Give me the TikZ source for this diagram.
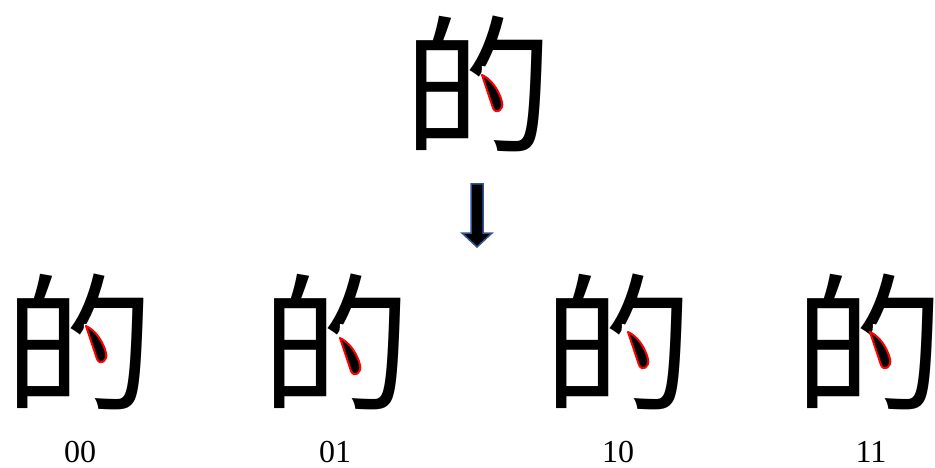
\documentclass[tikz,border=0pt]{standalone}
\usepackage{fontspec}
\setmainfont{Liberation Serif}
\newfontfamily\cjk{Noto Sans CJK SC}
\begin{document}
\begin{tikzpicture}[x=1pt,y=-1pt,
  hanzi/.style={inner sep=0pt, font=\cjk\fontsize{150}{150}\selectfont},
  code/.style={inner sep=0pt, font=\fontsize{32}{32}\selectfont},
  coverdot/.pic={\fill[white] (4,-18) -- (17,-16) -- (45,23) -- (33,35) -- (3,-2) -- cycle;},
  dotstroke/.pic={\filldraw[draw=red, fill=black, line width=2pt, line join=round]
     (0,0) .. controls (9,4) and (17,15) .. (20,27) .. controls (22,35) and (14,40) .. (11,33)
     .. controls (8,24) and (4,12) .. (0,0) -- cycle;}
]
\useasboundingbox (0,0) rectangle (935,468);
\node[hanzi] (top) at (478,84) {的};
\node[hanzi] (c1) at (80,342) {的};
\node[hanzi] (c2) at (336,342) {的};
\node[hanzi] (c3) at (618,342) {的};
\node[hanzi] (c4) at (869,342) {的};
\foreach \n in {top,c1,c2,c3,c4} {\pic at (\n.center) {coverdot};}
\pic at ([shift={(4,-9)}]top.center) {dotstroke};
\pic at ([shift={(6,-16)}]c1.center) {dotstroke};
\pic at ([shift={(4,-4)}]c2.center) {dotstroke};
\pic at ([shift={(10,-10)}]c3.center) {dotstroke};
\pic at ([shift={(1,-10)}]c4.center) {dotstroke};
\node[code] (l1) at (80,452) {00};
\node[code] (l2) at (335,452) {01};
\node[code] (l3) at (618,452) {10};
\node[code] (l4) at (871,452) {11};
\filldraw[fill=black, draw={rgb,255:red,47;green,85;blue,151}, line width=1.5pt, line join=miter]
  (471,184) -- (483,184) -- (483,233) -- (492,233) -- (477,247) -- (462,233) -- (471,233) -- cycle;
\end{tikzpicture}
\end{document}
